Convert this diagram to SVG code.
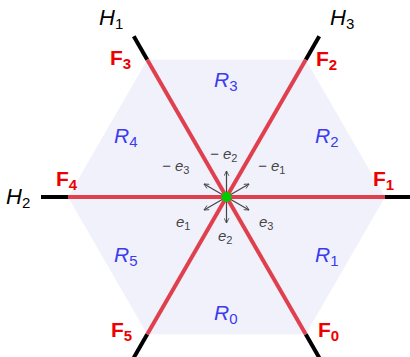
<svg xmlns="http://www.w3.org/2000/svg" width="410" height="357" viewBox="0 0 410 357">
<defs>
<marker id="ah" viewBox="0 0 10 10" refX="9" refY="5" markerWidth="6" markerHeight="6" orient="auto" markerUnits="userSpaceOnUse">
<path d="M1,1 L9,5 L1,9" fill="none" stroke="#444" stroke-width="1.4"/>
</marker>
<style>
.red{stroke:#e0404e;stroke-width:4;fill:none}
.blk{stroke:#000;stroke-width:4;fill:none}
.arr{stroke:#444;stroke-width:1.2;fill:none;marker-end:url(#ah)}
.H{font-family:"Liberation Sans",Arial,sans-serif;font-style:italic;font-size:22px;fill:#000}
.F{font-family:"Liberation Sans",Arial,sans-serif;font-weight:bold;font-size:21px;fill:#ee0000}
.R{font-family:"Liberation Sans",Arial,sans-serif;font-style:italic;font-size:21px;fill:#3a3aee}
.e{font-family:"Liberation Sans",Arial,sans-serif;font-style:italic;font-size:15px;fill:#444}
.sub{font-style:normal;font-size:15px}
.esub{font-style:normal;font-size:11px}
</style>
</defs>
<polygon id="hexagon" points="385,197 305.75,59.7 147.25,59.7 68,197 147.25,334.3 305.75,334.3" fill="#f1f1fc"/>
<g id="connectors">
<line class="blk" x1="385" y1="197" x2="412" y2="197"/>
<line class="blk" x1="68" y1="197" x2="41" y2="197"/>
<line class="blk" x1="305.75" y1="59.7" x2="319.25" y2="36.3"/>
<line class="blk" x1="147.25" y1="59.7" x2="133.75" y2="36.3"/>
<line class="blk" x1="147.25" y1="334.3" x2="133.75" y2="357.7"/>
<line class="blk" x1="305.75" y1="334.3" x2="319.25" y2="357.7"/>
<line class="red" x1="68" y1="197" x2="385" y2="197"/>
<line class="red" x1="147.25" y1="59.7" x2="305.75" y2="334.3"/>
<line class="red" x1="305.75" y1="59.7" x2="147.25" y2="334.3"/>
<line class="arr" x1="226.5" y1="197" x2="226.5" y2="171"/>
<line class="arr" x1="226.5" y1="197" x2="226.5" y2="223"/>
<line class="arr" x1="226.5" y1="197" x2="249" y2="184"/>
<line class="arr" x1="226.5" y1="197" x2="204" y2="184"/>
<line class="arr" x1="226.5" y1="197" x2="249" y2="210"/>
<line class="arr" x1="226.5" y1="197" x2="204" y2="210"/>
</g>
<g id="center"><circle cx="226.5" cy="197" r="5" fill="#00cc00"/></g>
<g id="H1"><text class="H" x="99" y="25">H<tspan class="sub" dy="4">1</tspan></text></g>
<g id="H3"><text class="H" x="330" y="25">H<tspan class="sub" dy="4">3</tspan></text></g>
<g id="H2"><text class="H" x="6" y="204">H<tspan class="sub" dy="4">2</tspan></text></g>
<g id="F3"><text class="F" x="110" y="65">F<tspan class="sub" font-weight="bold" dy="4">3</tspan></text></g>
<g id="F2"><text class="F" x="316" y="66">F<tspan class="sub" font-weight="bold" dy="4">2</tspan></text></g>
<g id="F4"><text class="F" x="56" y="186">F<tspan class="sub" font-weight="bold" dy="4">4</tspan></text></g>
<g id="F1"><text class="F" x="373" y="186">F<tspan class="sub" font-weight="bold" dy="4">1</tspan></text></g>
<g id="F5"><text class="F" x="111" y="337">F<tspan class="sub" font-weight="bold" dy="4">5</tspan></text></g>
<g id="F0"><text class="F" x="318" y="337">F<tspan class="sub" font-weight="bold" dy="4">0</tspan></text></g>
<g id="R3"><text class="R" x="214" y="87">R<tspan class="sub" dy="4">3</tspan></text></g>
<g id="R2"><text class="R" x="315" y="143">R<tspan class="sub" dy="4">2</tspan></text></g>
<g id="R4"><text class="R" x="114" y="143">R<tspan class="sub" dy="4">4</tspan></text></g>
<g id="R1"><text class="R" x="315" y="262">R<tspan class="sub" dy="4">1</tspan></text></g>
<g id="R5"><text class="R" x="114" y="262">R<tspan class="sub" dy="4">5</tspan></text></g>
<g id="R0"><text class="R" x="214" y="320">R<tspan class="sub" dy="4">0</tspan></text></g>
<g id="labels-e">
<text class="e" x="210" y="159">− e<tspan class="esub" dy="3">2</tspan></text>
<text class="e" x="162" y="171">− e<tspan class="esub" dy="3">3</tspan></text>
<text class="e" x="258" y="171">− e<tspan class="esub" dy="3">1</tspan></text>
<text class="e" x="176" y="227">e<tspan class="esub" dy="3">1</tspan></text>
<text class="e" x="218" y="241">e<tspan class="esub" dy="3">2</tspan></text>
<text class="e" x="259" y="227">e<tspan class="esub" dy="3">3</tspan></text>
</g>
</svg>
